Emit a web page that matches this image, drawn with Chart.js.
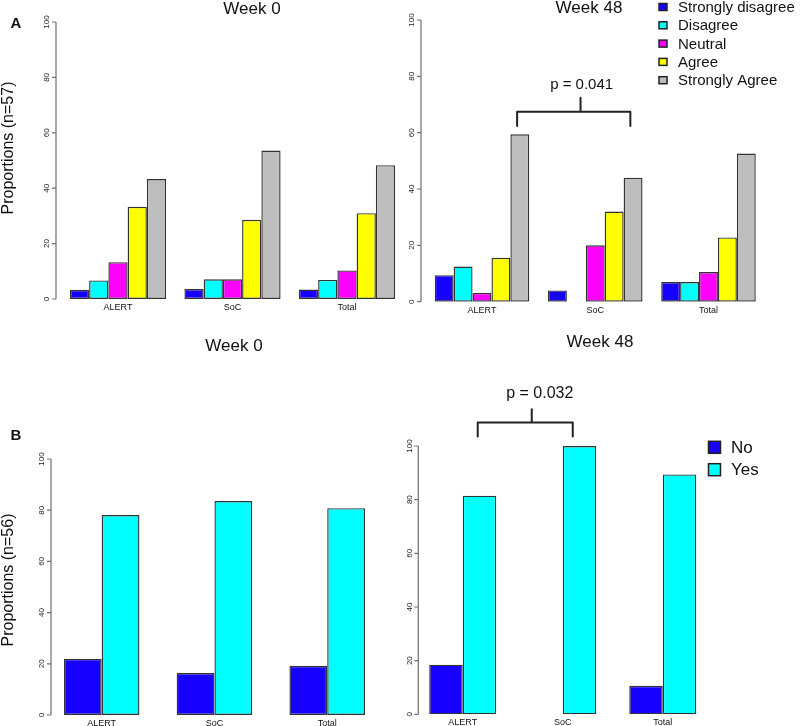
<!DOCTYPE html>
<html>
<head>
<meta charset="utf-8">
<title>Proportions by arm, week 0 and week 48</title>
<script src="https://cdn.jsdelivr.net/npm/chart.js@4.4.0/dist/chart.umd.min.js"></script>
<style>
  html, body { margin: 0; background: #fff; overflow: hidden; }
  #wrap { position: relative; width: 800px; height: 726px; overflow: hidden; }
  #wrap canvas { position: absolute; left: 0; top: 0; }
</style>
</head>
<body>
<div id="wrap">
  <canvas id="a0" width="800" height="750"></canvas>
  <canvas id="a48" width="800" height="750"></canvas>
  <canvas id="b0" width="800" height="750"></canvas>
  <canvas id="b48" width="800" height="750"></canvas>
</div>
<script>
// ---- data ----
const groups = ['ALERT', 'SoC', 'Total'];
const yTicks = [0, 20, 40, 60, 80, 100];

const likertLevels = ['Strongly disagree', 'Disagree', 'Neutral', 'Agree', 'Strongly Agree'];
const likertColors = ['#1600ff', '#00ffff', '#ff00ff', '#ffff00', '#bebebe'];
// one row per level, values for ALERT, SoC, Total (%)
const week0Likert = [
  [3.3, 3.6, 3.4],
  [6.7, 7.1, 6.9],
  [13.3, 7.1, 10.3],
  [33.3, 28.6, 31.0],
  [43.3, 53.6, 48.3]
];
const week48Likert = [
  [9.4, 4.0, 7.0],
  [12.5, 0, 7.0],
  [3.1, 20.0, 10.5],
  [15.6, 32.0, 22.8],
  [59.4, 44.0, 52.6]
];

const yesNoLevels = ['No', 'Yes'];
const yesNoColors = ['#1600ff', '#00ffff'];
const week0YesNo = [
  [21.9, 16.4, 19.2],
  [78.1, 83.6, 80.8]
];
const week48YesNo = [
  [18.5, 0, 10.6],
  [81.5, 100, 89.4]
];

const FONT = "'Liberation Sans', Arial, Helvetica, sans-serif";
const CANVAS_H = 750;
const X_AXIS_H = 16;

// ---- panel layout ----
const panels = [
  { id: 'a0', levels: likertLevels, colors: likertColors, values: week0Likert,
    area: [60.75, 22, 404.25, 299], axisX: 56, catPct: 0.84,
    title: ['Week 0', 252, 9], letter: ['A', 16, 23.5], yTitle: ['Proportions (n=57)', 9, 148] },
  { id: 'a48', levels: likertLevels, colors: likertColors, values: week48Likert,
    area: [425.4, 20, 765.1, 301.7], axisX: 421, catPct: 0.835,
    title: ['Week 48', 589, 8],
    legend: { x: 659, y: 7, step: 18.3, box: [8, 7], textX: 678, size: 15 },
    bracket: { from: 0.31, to: 1.31, mid: 0.87, top: 67.4, end: 62.4, tick: 72.4,
               label: 'p = 0.041', labelAt: 0.88, labelY: 76.9, size: 15 } },
  { id: 'b0', levels: yesNoLevels, colors: yesNoColors, values: week0YesNo,
    area: [45.3, 459, 383.6, 715], axisX: 51, catPct: 0.67,
    title: ['Week 0', 234, 346], letter: ['B', 16, 436], yTitle: ['Proportions (n=56)', 9, 580] },
  { id: 'b48', levels: yesNoLevels, colors: yesNoColors, values: week48YesNo,
    area: [412.7, 446, 712.8, 714.3], axisX: 418.3, catPct: 0.67,
    title: ['Week 48', 600, 342],
    legend: { x: 708.5, y: 447.3, step: 22.4, box: [12, 12], textX: 731, size: 17 },
    bracket: { from: 0.15, to: 1.10, mid: 0.69, top: 108.8, end: 103.5, tick: 113.7,
               label: 'p = 0.032', labelAt: 0.77, labelY: 119.6, size: 16 } }
];

function makeDeco(p) {
  return {
    id: 'deco',
    afterDraw(chart) {
      const ctx = chart.ctx;
      const xs = chart.scales.x, ys = chart.scales.y;
      ctx.save();

      // y axis, R style: line only from 0 to 100
      ctx.strokeStyle = '#707070';
      ctx.lineWidth = 1.2;
      ctx.beginPath();
      ctx.moveTo(p.axisX, ys.getPixelForValue(0));
      ctx.lineTo(p.axisX, ys.getPixelForValue(100));
      yTicks.forEach(v => {
        const py = ys.getPixelForValue(v);
        ctx.moveTo(p.axisX, py);
        ctx.lineTo(p.axisX - 4, py);
      });
      ctx.stroke();

      ctx.fillStyle = '#222';
      ctx.font = '8px ' + FONT;
      ctx.textAlign = 'center';
      ctx.textBaseline = 'middle';
      yTicks.forEach(v => {
        ctx.save();
        ctx.translate(p.axisX - 9, ys.getPixelForValue(v));
        ctx.rotate(-Math.PI / 2);
        ctx.fillText(String(v), 0, 0);
        ctx.restore();
      });

      // titles
      ctx.fillStyle = '#111';
      ctx.font = '17px ' + FONT;
      ctx.fillText(p.title[0], p.title[1], p.title[2]);
      if (p.letter) {
        ctx.font = 'bold 15px ' + FONT;
        ctx.fillText(p.letter[0], p.letter[1], p.letter[2]);
      }
      if (p.yTitle) {
        ctx.save();
        ctx.font = '16px ' + FONT;
        ctx.translate(p.yTitle[1], p.yTitle[2]);
        ctx.rotate(-Math.PI / 2);
        ctx.fillText(p.yTitle[0], 0, 0);
        ctx.restore();
      }

      // legend
      if (p.legend) {
        const L = p.legend;
        ctx.textAlign = 'left';
        ctx.font = L.size + 'px ' + FONT;
        chart.data.datasets.forEach((ds, i) => {
          const cy = L.y + i * L.step;
          ctx.fillStyle = ds.backgroundColor;
          ctx.fillRect(L.x, cy - L.box[1] / 2, L.box[0], L.box[1]);
          ctx.strokeStyle = '#222';
          ctx.lineWidth = 1.5;
          ctx.strokeRect(L.x, cy - L.box[1] / 2, L.box[0], L.box[1]);
          ctx.fillStyle = '#111';
          ctx.fillText(ds.label, L.textX, cy + 1);
        });
      }

      // significance bracket
      if (p.bracket) {
        const B = p.bracket;
        const c0 = xs.getPixelForValue(0), c1 = xs.getPixelForValue(1);
        const px = u => c0 + u * (c1 - c0);
        ctx.strokeStyle = '#222';
        ctx.lineWidth = 2;
        ctx.lineJoin = 'round';
        ctx.lineCap = 'round';
        ctx.beginPath();
        ctx.moveTo(px(B.from), ys.getPixelForValue(B.end));
        ctx.lineTo(px(B.from), ys.getPixelForValue(B.top));
        ctx.lineTo(px(B.to), ys.getPixelForValue(B.top));
        ctx.lineTo(px(B.to), ys.getPixelForValue(B.end));
        ctx.moveTo(px(B.mid), ys.getPixelForValue(B.top));
        ctx.lineTo(px(B.mid), ys.getPixelForValue(B.tick));
        ctx.stroke();
        ctx.fillStyle = '#111';
        ctx.textAlign = 'center';
        ctx.font = B.size + 'px ' + FONT;
        ctx.fillText(B.label, px(B.labelAt), ys.getPixelForValue(B.labelY));
      }
      ctx.restore();
    }
  };
}

panels.forEach(p => {
  const [left, top, right, bottom] = p.area;
  new Chart(document.getElementById(p.id), {
    type: 'bar',
    data: {
      labels: groups,
      datasets: p.levels.map((lvl, i) => ({
        label: lvl,
        data: p.values[i],
        backgroundColor: p.colors[i],
        borderColor: '#333',
        borderWidth: 1.4,
        borderSkipped: false,
        barPercentage: 1,
        categoryPercentage: p.catPct
      }))
    },
    options: {
      responsive: false,
      animation: false,
      events: [],
      layout: {
        padding: { left: left, top: top, right: 800 - right, bottom: CANVAS_H - bottom - X_AXIS_H }
      },
      plugins: { legend: { display: false }, tooltip: { enabled: false } },
      scales: {
        x: {
          grid: { display: false, drawTicks: false },
          border: { display: false },
          ticks: { color: '#111', font: { family: FONT, size: 9 }, padding: 3,
                   autoSkip: false, maxRotation: 0 },
          afterFit: s => { s.height = X_AXIS_H; }
        },
        y: {
          display: false,
          min: 0,
          max: 100
        }
      }
    },
    plugins: [makeDeco(p)]
  });
});
</script>
</body>
</html>
